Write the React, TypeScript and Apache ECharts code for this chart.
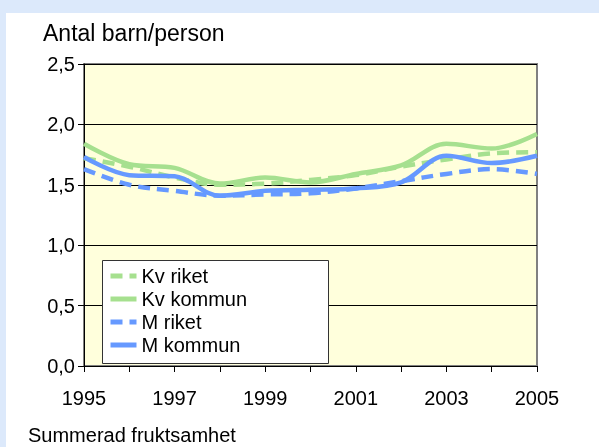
import React, { useEffect, useRef } from "react";
import * as echarts from "echarts";

const years = ["1995", "1996", "1997", "1998", "1999", "2000", "2001", "2002", "2003", "2004", "2005"];
const kvRiket = [1.72, 1.65, 1.56, 1.5, 1.51, 1.54, 1.58, 1.65, 1.71, 1.76, 1.77];
const kvKommun = [1.84, 1.67, 1.64, 1.51, 1.56, 1.52, 1.59, 1.66, 1.84, 1.8, 1.92];
const mRiket = [1.63, 1.5, 1.45, 1.41, 1.42, 1.43, 1.47, 1.53, 1.59, 1.63, 1.59];
const mKommun = [1.73, 1.58, 1.57, 1.41, 1.45, 1.46, 1.47, 1.52, 1.74, 1.68, 1.74];
const seriesNames = ["Kv riket", "Kv kommun", "M riket", "M kommun"];

const GREEN = "#a6e08f";
const BLUE = "#6699ff";

export default function App() {
  const ref = useRef<HTMLDivElement>(null);
  useEffect(() => {
    if (!ref.current) return;
    const chart = echarts.init(ref.current, null, { renderer: "svg" });
    const font = "Arial, 'Liberation Sans', sans-serif";
    const mk = (name: string, data: number[], color: string, dashed: boolean) => ({
      name,
      type: "line",
      data,
      smooth: 0.35,
      symbol: "none",
      lineStyle: { color, width: 4.5, type: dashed ? [12, 7] : "solid", cap: "butt" },
      itemStyle: { color },
      z: 3,
    });
    chart.setOption({
      animation: false,
      backgroundColor: "transparent",
      textStyle: { fontFamily: font },
      title: {
        text: "Antal barn/person",
        left: 38,
        top: 16,
        textStyle: { fontSize: 23, fontWeight: "normal", color: "#000", fontFamily: font },
      },
      graphic: [
        {
          type: "rect",
          shape: { x: 0, y: 0, width: 599, height: 447 },
          style: { fill: "#dce9fb" },
          z: -10,
          silent: true,
        },
        {
          type: "rect",
          shape: { x: 6, y: 13, width: 593, height: 434 },
          style: { fill: "#ffffff" },
          z: -9,
          silent: true,
        },
        {
          type: "rect",
          shape: { x: 102.5, y: 260.5, width: 226, height: 103 },
          style: { fill: "#ffffff", stroke: "#333333", lineWidth: 1 },
          z: 10,
          silent: true,
        },
        {
          type: "text",
          left: 28,
          top: 425,
          style: { text: "Summerad fruktsamhet", fontSize: 20, fill: "#000", fontFamily: font },
          z: 10,
        },
      ],
      legend: {
        orient: "vertical",
        left: 108,
        top: 266,
        padding: 0,
        itemGap: 3,
        itemWidth: 26,
        itemHeight: 14,
        selectedMode: false,
        data: seriesNames,
        itemStyle: { opacity: 0 },
        lineStyle: { width: 5 },
        textStyle: { fontSize: 20, color: "#000", fontFamily: font, lineHeight: 20 },
        z: 20,
      },
      grid: {
        left: 84,
        right: 62,
        top: 64,
        bottom: 81,
        show: true,
        backgroundColor: "#ffffdc",
        borderColor: "#808080",
        borderWidth: 2,
      },
      xAxis: {
        type: "category",
        data: years,
        boundaryGap: false,
        axisLine: { show: true, lineStyle: { color: "#000", width: 1 } },
        axisTick: { show: true, interval: 0, length: 6, lineStyle: { color: "#000" } },
        axisLabel: { interval: 1, fontSize: 20, color: "#000", margin: 22, fontFamily: font },
        splitLine: { show: false },
      },
      yAxis: {
        type: "value",
        min: 0,
        max: 2.5,
        interval: 0.5,
        axisLine: { show: true, lineStyle: { color: "#000", width: 1 } },
        axisTick: { show: true, length: 6, lineStyle: { color: "#000" } },
        axisLabel: {
          fontSize: 20,
          color: "#000",
          margin: 9,
          fontFamily: font,
          formatter: (v: number) => v.toFixed(1).replace(".", ","),
        },
        splitLine: { show: true, lineStyle: { color: "#000", width: 1 } },
      },
      series: [
        mk("Kv riket", kvRiket, GREEN, true),
        mk("Kv kommun", kvKommun, GREEN, false),
        mk("M riket", mRiket, BLUE, true),
        mk("M kommun", mKommun, BLUE, false),
      ],
    });
    return () => chart.dispose();
  }, []);
  return (
    <div
      ref={ref}
      style={{ position: "fixed", left: 0, top: 0, width: 599, height: 447 }}
    />
  );
}
